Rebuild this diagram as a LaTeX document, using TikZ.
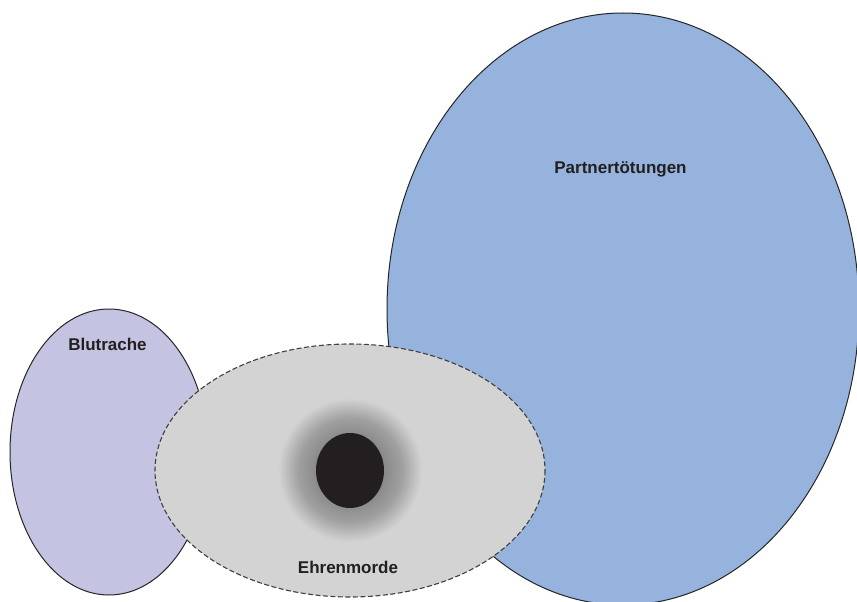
\documentclass[tikz,border=0pt]{standalone}
\usepackage{fontspec}
\setmainfont{Liberation Sans}
\definecolor{bluefill}{HTML}{95B3DC}
\definecolor{lavfill}{HTML}{C5C3E2}
\definecolor{greyfill}{HTML}{D3D3D3}
\definecolor{haloin}{HTML}{8A8A8A}
\definecolor{coreblack}{HTML}{231F20}
\definecolor{txt}{HTML}{231F20}
\pgfdeclareradialshading{halo}{\pgfpoint{0bp}{0bp}}{color(0bp)=(haloin); color(12bp)=(haloin); color(18bp)=(haloin!70!greyfill); color(25bp)=(greyfill); color(50bp)=(greyfill)}
\tikzset{
  lbl/.style={font=\fontsize{17}{20}\selectfont\bfseries, text=txt, inner sep=0pt, anchor=base},
  outline/.style={draw=black!85, line width=1pt},
}
\begin{document}
\begin{tikzpicture}[x=1pt,y=-1pt]
\useasboundingbox (0,0) rectangle (857,602);
\path[clip] (0,0) rectangle (857,602);
\fill[white] (0,0) rectangle (857,602);
% Partnertoetungen
\path[outline, fill=bluefill] (623,309) ellipse [x radius=236, y radius=296];
% Blutrache
\path[outline, fill=lavfill] (109,452) ellipse [x radius=99, y radius=143];
% Ehrenmorde
\path[fill=greyfill, draw=black!75, line width=1.1pt, dash pattern=on 5pt off 2.5pt] (350,470.5) ellipse [x radius=195, y radius=126.5];
\path[shading=halo] (350,470) circle [radius=72];
\path[fill=coreblack] (350,470.5) ellipse [x radius=34, y radius=37.5];
\node[lbl] (partner) at (620.5,173) {Partnertötungen};
\node[lbl] (blut) at (107.5,350) {Blutrache};
\node[lbl] (ehren) at (348,573) {Ehrenmorde};
\end{tikzpicture}
\end{document}
